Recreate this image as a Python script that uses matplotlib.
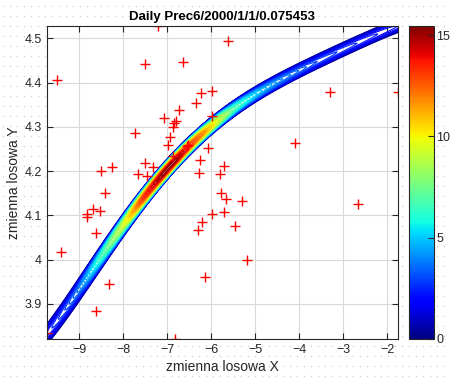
import numpy as np
import matplotlib.pyplot as plt
from matplotlib.colors import Normalize
from matplotlib.cm import ScalarMappable

plt.rcParams['font.family'] = ['Liberation Sans', 'DejaVu Sans']

# ridge of the density: centre line and peak height along it
ridge_x = np.array([-9.78, -9.29, -9.00, -8.60, -8.00, -7.54, -7.10, -6.80, -6.50,
                    -6.20, -5.90, -5.50, -5.00, -4.45, -3.70, -2.94, -2.18, -1.80])
ridge_y = np.array([3.828, 3.887, 3.928, 3.992, 4.082, 4.140, 4.197, 4.226, 4.255,
                    4.282, 4.307, 4.337, 4.374, 4.410, 4.444, 4.477, 4.507, 4.530])
ridge_peak = np.array([2.2, 3.0, 3.8, 6.0, 9.5, 13.5, 15.4, 15.4, 13.5,
                       12.0, 10.0, 7.0, 5.2, 4.0, 3.0, 2.6, 2.2, 2.0])

# observed points (red crosses)
obs_x = [-9.73, -7.215, -6.81, -1.757, -7.503, -6.648, -9.49, -5.62, -6.225, -5.99,
         -6.338, -6.732, -5.99, -7.073, -6.80, -6.837, -6.86, -7.72, -6.94, -6.98,
         -6.53, -6.55, -6.075, -6.875, -7.503, -6.256, -7.33, -8.508, -8.243, -7.669,
         -7.465, -6.279, -5.794, -5.70, -5.787, -5.667, -5.304, -5.975, -5.70, -6.211,
         -5.463, -6.302, -5.197, -6.143, -8.417, -8.673, -8.524, -8.826, -8.81, -8.614,
         -9.415, -8.32, -8.614, -3.293, -4.093, -2.673]
obs_y = [3.835, 4.528, 3.821, 4.378, 4.441, 4.446, 4.407, 4.494, 4.377, 4.381,
         4.353, 4.338, 4.324, 4.319, 4.313, 4.309, 4.299, 4.286, 4.277, 4.260,
         4.259, 4.257, 4.253, 4.234, 4.218, 4.225, 4.210, 4.201, 4.209, 4.194,
         4.188, 4.196, 4.194, 4.212, 4.151, 4.137, 4.133, 4.103, 4.108, 4.085,
         4.077, 4.067, 3.999, 3.960, 4.151, 4.114, 4.110, 4.103, 4.097, 4.061,
         4.018, 3.945, 3.884, 4.378, 4.263, 4.125]

cmax = 15.45

# smooth centre line for the density field
coef = np.polyfit(ridge_x, ridge_y, 5)
cx = np.linspace(ridge_x[0], ridge_x[-1], 400)
cy = np.polyval(coef, cx)
cp = np.interp(cx, ridge_x, ridge_peak)

# density field on a grid (distance to ridge measured in screen pixels)
sx, sy = 44.1, 443.0
gx, gy = np.meshgrid(np.linspace(-9.9, -1.6, 420), np.linspace(3.78, 4.58, 420))
px, py = gx * sx, gy * sy
dist = np.full(gx.shape, np.inf)
peak = np.zeros(gx.shape)
for xi, yi, pi in zip(cx, cy, cp):
    d = np.hypot(px - xi * sx, py - yi * sy)
    m = d < dist
    dist[m] = d[m]
    peak[m] = pi
half_width = 6.9
z = peak * np.clip(1 - (dist / half_width) ** 2, 0, None)

fig = plt.figure(figsize=(4.51, 3.80), dpi=100)

# dotted page background
bg = fig.add_axes([0, 0, 1, 1], zorder=-5)
bx_, by_ = np.meshgrid(np.arange(3, 451, 7), np.arange(4, 380, 10))
bg.scatter(bx_.ravel(), by_.ravel(), s=1.3, color='#d6d6d6', linewidths=0)
bg.set_xlim(0, 451)
bg.set_ylim(0, 380)
bg.axis('off')

ax = fig.add_axes([0.104, 0.108, 0.7785, 0.8237])
ax.set_facecolor('white')
levels = np.linspace(0.3, 15.4, 64)
ax.contour(gx, gy, z, levels=levels, cmap='jet', vmin=0, vmax=cmax, linewidths=0.8)
ax.plot(obs_x, obs_y, '+', color='red', markersize=7, markeredgewidth=1.0)

ax.set_xlim(min(obs_x), max(obs_x))
ax.set_ylim(min(obs_y), max(obs_y))
ax.set_xticks([-9, -8, -7, -6, -5, -4, -3, -2])
ax.set_yticks([3.9, 4.0, 4.1, 4.2, 4.3, 4.4, 4.5])
ax.set_yticklabels(['3.9', '4', '4.1', '4.2', '4.3', '4.4', '4.5'])
ax.grid(True, color='#d9d9d9', linewidth=0.8)
ax.set_axisbelow(True)
ax.tick_params(direction='in', top=True, right=True, labelsize=9, colors='#262626', length=4)
for s in ax.spines.values():
    s.set_color('#262626')
    s.set_linewidth(0.8)
ax.set_xlabel('zmienna losowa X', fontsize=10, color='#262626', labelpad=3)
ax.set_ylabel('zmienna losowa Y', fontsize=10, color='#262626', labelpad=3)
ax.set_title('Daily Prec6/2000/1/1/0.075453', fontsize=9.5, fontweight='bold', pad=4)

cax = fig.add_axes([0.907, 0.108, 0.0554, 0.8237])
sm = ScalarMappable(norm=Normalize(0, cmax), cmap='jet')
cb = fig.colorbar(sm, cax=cax, ticks=[0, 5, 10, 15])
cb.ax.tick_params(direction='in', labelsize=9, colors='#262626', length=4, pad=1.5)
cb.outline.set_edgecolor('#262626')
cb.outline.set_linewidth(0.8)

fig.savefig('out.png', dpi=100, facecolor='white')
